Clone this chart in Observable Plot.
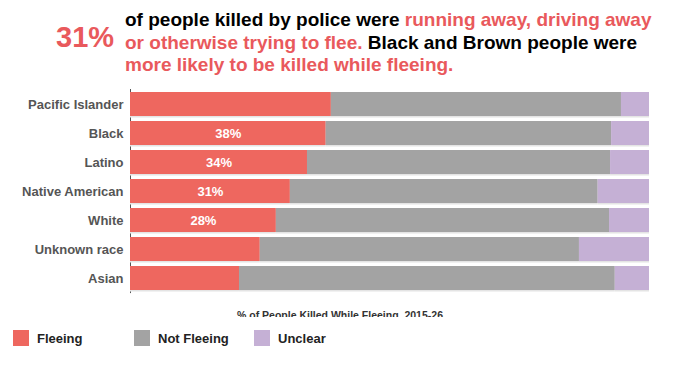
<!DOCTYPE html>
<html>
<head>
<meta charset="utf-8">
<script src="https://cdn.jsdelivr.net/npm/d3@7"></script>
<script src="https://cdn.jsdelivr.net/npm/@observablehq/plot@0.6"></script>
<style>
  html, body { margin: 0; padding: 0; background: #fff; }
  body { width: 694px; height: 375px; position: relative; overflow: hidden; font-family: "Liberation Sans", Arial, sans-serif; }
  #header { position: relative; height: 85px; }
  #big { position: absolute; left: 56px; top: 23px; font-size: 29px; line-height: 29px; font-weight: bold; color: #e9595c; }
  #lead { position: absolute; left: 125px; top: 9px; font-size: 19px; line-height: 22.5px; font-weight: bold; color: #000; white-space: nowrap; }
  #lead .hl { color: #e9595c; }
  #chart { position: absolute; left: 0; top: 85px; }
  #capwrap { position: absolute; left: 0; top: 300px; width: 694px; height: 16.7px; overflow: hidden; }
  #caption { position: absolute; left: 237px; top: 9px; font-size: 10.5px; line-height: 12px; font-weight: bold; color: #333; white-space: nowrap; }
  #legend { position: absolute; left: 0; top: 330px; width: 694px; height: 20px; }
  .item { position: absolute; top: 0; font-size: 13px; font-weight: bold; color: #222; white-space: nowrap; }
  .sw { position: absolute; top: 0; width: 16px; height: 16px; }
  .lab { position: absolute; top: 2px; line-height: 13px; }
</style>
</head>
<body>
<div id="header">
  <div id="big">31%</div>
  <div id="lead">of people killed by police were <span class="hl">running away, driving away</span><br><span class="hl">or otherwise trying to flee.</span> Black and Brown people were<br><span class="hl">more likely to be killed while fleeing.</span></div>
</div>
<div id="chart"></div>
<div id="capwrap"><div id="caption">% of People Killed While Fleeing, 2015-26</div></div>
<div id="legend"></div>
<script>
const categories = ["Pacific Islander", "Black", "Latino", "Native American", "White", "Unknown race", "Asian"];
const fleeing    = [38.7, 37.7, 34.1, 30.8, 28.1, 25.0, 21.0];
const notFleeing = [55.9, 55.0, 58.4, 59.3, 64.2, 61.5, 72.4];
const unclear    = [5.4, 7.3, 7.5, 9.9, 7.7, 13.5, 6.6];
const barLabels  = ["", "38%", "34%", "31%", "28%", "", ""];
const statuses   = ["Fleeing", "Not Fleeing", "Unclear"];
const colors     = ["#ee675f", "#a3a3a3", "#c5b0d5"];

const long = categories.flatMap((race, i) => [
  {race, status: statuses[0], value: fleeing[i]},
  {race, status: statuses[1], value: notFleeing[i]},
  {race, status: statuses[2], value: unclear[i]}
]);
const labelRows = categories.map((race, i) => ({race, mid: fleeing[i] / 2, label: barLabels[i]})).filter(d => d.label);

const chart = Plot.plot({
  width: 694,
  height: 215,
  marginTop: 0.5,
  marginBottom: 2.9,
  marginLeft: 130,
  marginRight: 45,
  style: {fontFamily: "'Liberation Sans', Arial, sans-serif", background: "transparent"},
  x: {domain: [0, 100], axis: null},
  y: {domain: categories, padding: 0.185, label: null},
  color: {domain: statuses, range: colors},
  marks: [
    Plot.ruleX([0], {stroke: "#555", strokeWidth: 1, insetTop: 3.5, insetBottom: 4}),
    Plot.barX(long, Plot.stackX({x: "value", y: "race", fill: "#e4e4e4", dy: 1.5})),
    Plot.barX(long, Plot.stackX({x: "value", y: "race", fill: "status"})),
    Plot.text(labelRows, {x: "mid", y: "race", text: "label", fill: "#fff", fontSize: 13, fontWeight: "bold"}),
    Plot.axisY({tickSize: 0, tickPadding: 7, fontSize: 13, fontWeight: "bold", fill: "#555", label: null})
  ]
});
document.getElementById("chart").appendChild(chart);

const legend = document.getElementById("legend");
const lx = [13, 134, 254];
statuses.forEach((s, i) => {
  const item = document.createElement("div");
  item.className = "item";
  item.style.left = lx[i] + "px";
  item.innerHTML = `<div class="sw" style="left:0;background:${colors[i]}"></div><div class="lab" style="left:24px">${s}</div>`;
  legend.appendChild(item);
});
</script>
</body>
</html>
